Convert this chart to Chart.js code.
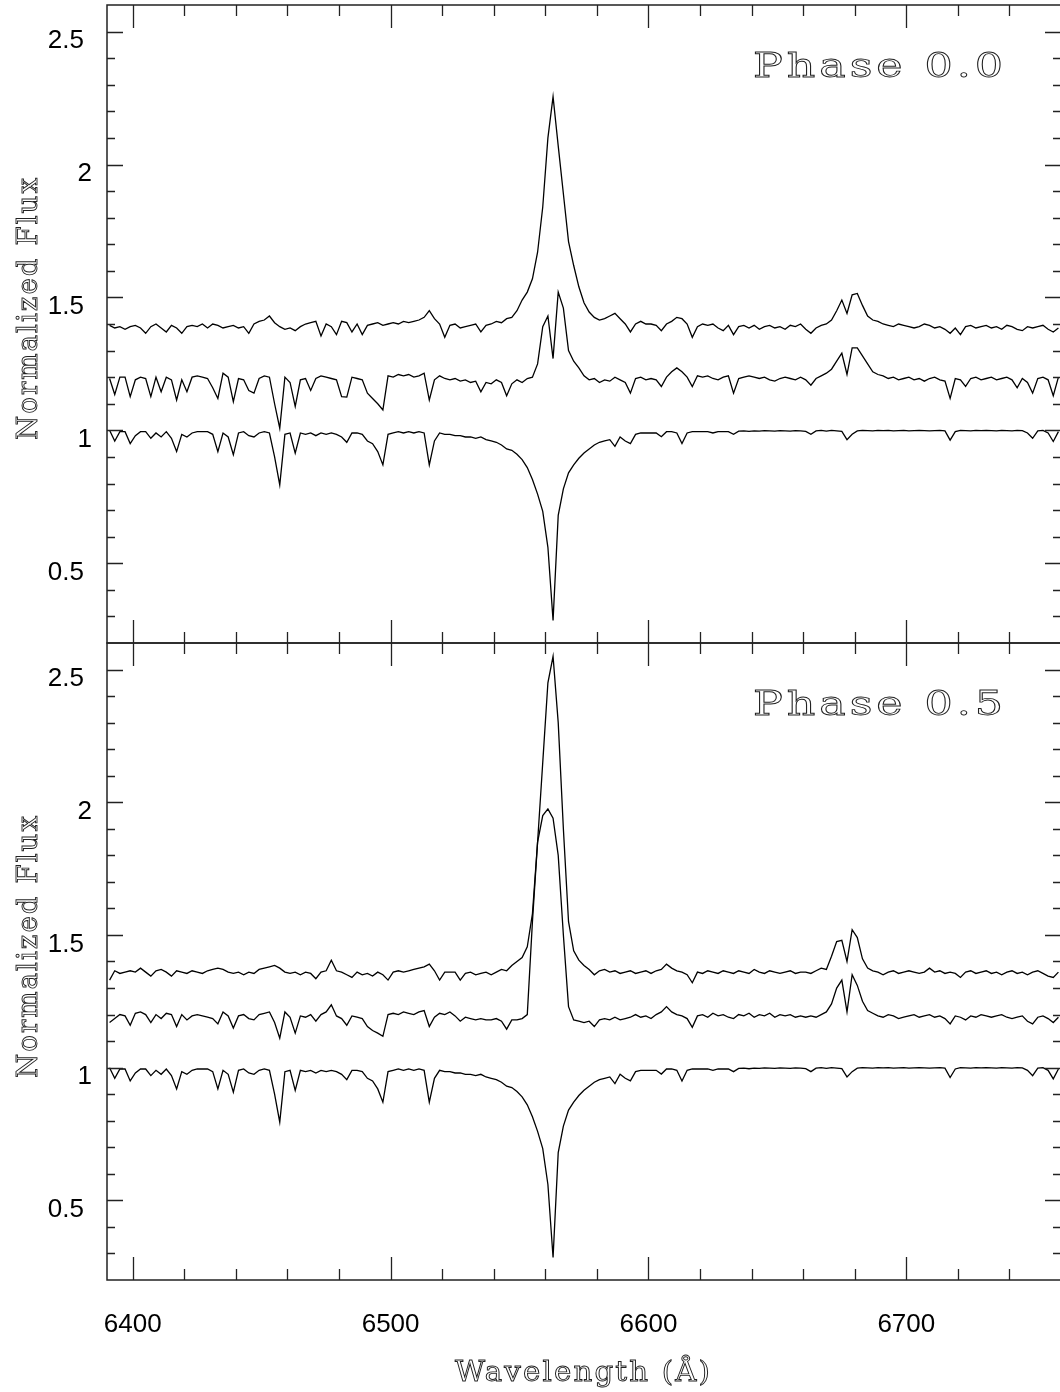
<!DOCTYPE html>
<html>
<head>
<meta charset="utf-8">
<script src="https://cdn.jsdelivr.net/npm/chart.js@4.4.1/dist/chart.umd.min.js"></script>
<style>
  html, body { margin: 0; padding: 0; background: #fff; overflow: hidden; }
  #wrap { position: relative; width: 1060px; height: 1392px; overflow: hidden; }
  canvas { position: absolute; left: 0; }
  #topPanel { top: 0; }
  #bottomPanel { top: 633px; }
</style>
</head>
<body>
<div id="wrap">
  <canvas id="topPanel" width="1064" height="650"></canvas>
  <canvas id="bottomPanel" width="1064" height="759"></canvas>
</div>
<script>
// wavelength sampling (Angstrom): 6391, 6393, ... 6759
const waveStart = 6391;
const waveStep = 2;
const waveCount = 185;

// Phase 0.0, upper spectrum (one row = 20 A, starting 6391, 6411, ...)
const phase0Upper = [
  1.395, 1.385, 1.39, 1.38, 1.39, 1.395, 1.385, 1.365, 1.39, 1.40,
  1.385, 1.37, 1.395, 1.385, 1.365, 1.39, 1.395, 1.39, 1.40, 1.385,
  1.40, 1.395, 1.385, 1.39, 1.395, 1.385, 1.39, 1.365, 1.40, 1.41,
  1.415, 1.43, 1.405, 1.39, 1.38, 1.385, 1.375, 1.39, 1.40, 1.405,
  1.41, 1.355, 1.40, 1.39, 1.36, 1.41, 1.405, 1.37, 1.40, 1.36,
  1.395, 1.40, 1.405, 1.395, 1.40, 1.405, 1.40, 1.41, 1.405, 1.41,
  1.415, 1.425, 1.45, 1.42, 1.40, 1.35, 1.395, 1.40, 1.385, 1.39,
  1.395, 1.40, 1.37, 1.395, 1.40, 1.41, 1.405, 1.42, 1.425, 1.45,
  1.49, 1.52, 1.57, 1.67, 1.84, 2.10, 2.255, 2.07, 1.89, 1.71,
  1.62, 1.54, 1.48, 1.445, 1.425, 1.415, 1.42, 1.43, 1.44, 1.42,
  1.40, 1.37, 1.40, 1.41, 1.40, 1.40, 1.395, 1.375, 1.40, 1.41,
  1.425, 1.42, 1.40, 1.35, 1.39, 1.40, 1.395, 1.40, 1.385, 1.375,
  1.395, 1.36, 1.39, 1.395, 1.385, 1.395, 1.38, 1.39, 1.395, 1.385,
  1.39, 1.38, 1.395, 1.39, 1.40, 1.38, 1.365, 1.385, 1.395, 1.40,
  1.415, 1.45, 1.49, 1.44, 1.51, 1.515, 1.47, 1.43, 1.415, 1.41,
  1.40, 1.395, 1.39, 1.40, 1.395, 1.39, 1.385, 1.39, 1.40, 1.395,
  1.385, 1.39, 1.38, 1.365, 1.385, 1.36, 1.39, 1.395, 1.385, 1.39,
  1.395, 1.385, 1.39, 1.38, 1.395, 1.39, 1.38, 1.375, 1.39, 1.385,
  1.39, 1.395, 1.38, 1.37, 1.385
];

// Phase 0.0, middle spectrum
const phase0Middle = [
  1.195, 1.135, 1.20, 1.20, 1.127, 1.19, 1.20, 1.195, 1.127, 1.20,
  1.145, 1.20, 1.19, 1.114, 1.19, 1.145, 1.20, 1.205, 1.20, 1.195,
  1.16, 1.12, 1.215, 1.20, 1.108, 1.195, 1.19, 1.15, 1.14, 1.195,
  1.205, 1.20, 1.10, 1.008, 1.20, 1.18, 1.09, 1.19, 1.195, 1.15,
  1.195, 1.205, 1.20, 1.195, 1.19, 1.127, 1.125, 1.20, 1.195, 1.19,
  1.14, 1.12, 1.10, 1.077, 1.205, 1.20, 1.21, 1.205, 1.21, 1.20,
  1.205, 1.215, 1.114, 1.19, 1.205, 1.195, 1.19, 1.195, 1.185, 1.19,
  1.18, 1.185, 1.145, 1.18, 1.175, 1.19, 1.18, 1.13, 1.175, 1.19,
  1.18, 1.195, 1.20, 1.25, 1.39, 1.43, 1.27, 1.52, 1.46, 1.30,
  1.26, 1.235, 1.205, 1.19, 1.195, 1.18, 1.19, 1.185, 1.20, 1.19,
  1.18, 1.14, 1.195, 1.20, 1.19, 1.195, 1.19, 1.165, 1.20, 1.22,
  1.235, 1.22, 1.20, 1.165, 1.205, 1.20, 1.205, 1.195, 1.19, 1.20,
  1.205, 1.14, 1.195, 1.20, 1.205, 1.20, 1.195, 1.20, 1.19, 1.185,
  1.195, 1.20, 1.195, 1.19, 1.20, 1.19, 1.17, 1.195, 1.205, 1.215,
  1.23, 1.26, 1.29, 1.21, 1.31, 1.31, 1.28, 1.25, 1.22, 1.21,
  1.205, 1.195, 1.20, 1.19, 1.195, 1.20, 1.19, 1.195, 1.185, 1.195,
  1.20, 1.19, 1.185, 1.12, 1.195, 1.19, 1.165, 1.195, 1.20, 1.19,
  1.195, 1.20, 1.19, 1.195, 1.20, 1.19, 1.16, 1.195, 1.18, 1.14,
  1.195, 1.20, 1.19, 1.13, 1.20
];

// photospheric template, drawn at the bottom of both panels
const templateFlux = [
  1.00, 0.96, 0.995, 0.995, 0.95, 0.98, 0.995, 0.995, 0.97, 0.99,
  0.975, 0.995, 0.97, 0.92, 0.985, 0.975, 0.99, 0.995, 0.995, 0.995,
  0.985, 0.92, 0.99, 0.975, 0.908, 0.99, 0.995, 0.98, 0.975, 0.99,
  0.995, 0.99, 0.90, 0.795, 0.985, 0.99, 0.914, 0.99, 0.985, 0.99,
  0.98, 0.99, 0.985, 0.99, 0.985, 0.975, 0.955, 0.99, 0.99, 0.985,
  0.96, 0.95, 0.92, 0.87, 0.985, 0.99, 0.995, 0.99, 0.995, 0.99,
  0.995, 0.99, 0.87, 0.96, 0.99, 0.985, 0.985, 0.98, 0.98, 0.975,
  0.975, 0.97, 0.975, 0.965, 0.96, 0.955, 0.945, 0.93, 0.925, 0.91,
  0.89, 0.86, 0.815, 0.76, 0.695, 0.56, 0.285, 0.68, 0.78, 0.84,
  0.87, 0.895, 0.915, 0.93, 0.945, 0.955, 0.96, 0.965, 0.94, 0.975,
  0.96, 0.95, 0.985, 0.99, 0.99, 0.99, 0.99, 0.976, 0.995, 0.995,
  0.99, 0.95, 0.99, 0.995, 0.995, 0.995, 0.995, 0.99, 0.995, 0.995,
  0.995, 0.985, 0.997, 0.998, 0.996, 0.998, 0.997, 0.999, 0.998, 0.997,
  0.999, 0.998, 0.997, 0.999, 0.998, 0.996, 0.985, 0.998, 1.00, 0.997,
  1.00, 0.998, 0.996, 0.965, 0.985, 0.998, 1.00, 0.999, 0.998, 1.00,
  0.999, 1.00, 0.998, 0.999, 1.00, 0.998, 0.999, 1.00, 0.999, 0.998,
  0.999, 1.00, 0.998, 0.963, 0.995, 1.00, 0.999, 0.998, 1.00, 0.999,
  1.00, 0.999, 0.998, 1.00, 0.999, 0.998, 1.00, 0.999, 0.99, 0.97,
  0.998, 1.00, 0.99, 0.958, 0.995
];

// Phase 0.5, upper spectrum
const phase5Upper = [
  1.33, 1.365, 1.355, 1.36, 1.365, 1.36, 1.375, 1.36, 1.345, 1.365,
  1.37, 1.36, 1.345, 1.365, 1.36, 1.355, 1.365, 1.36, 1.355, 1.365,
  1.37, 1.375, 1.37, 1.36, 1.355, 1.36, 1.35, 1.36, 1.355, 1.37,
  1.375, 1.38, 1.385, 1.375, 1.36, 1.355, 1.36, 1.35, 1.36, 1.355,
  1.335, 1.36, 1.365, 1.405, 1.365, 1.36, 1.35, 1.34, 1.36, 1.35,
  1.355, 1.345, 1.36, 1.35, 1.33, 1.36, 1.365, 1.36, 1.365, 1.37,
  1.375, 1.38, 1.39, 1.365, 1.33, 1.36, 1.36, 1.36, 1.33, 1.355,
  1.36, 1.35, 1.355, 1.36, 1.35, 1.36, 1.37, 1.365, 1.385, 1.40,
  1.415, 1.455, 1.58, 1.85, 2.15, 2.45, 2.55, 2.30, 1.90, 1.55,
  1.44, 1.405, 1.385, 1.37, 1.35, 1.365, 1.37, 1.36, 1.365, 1.355,
  1.36, 1.365, 1.355, 1.36, 1.365, 1.355, 1.365, 1.37, 1.39, 1.375,
  1.365, 1.36, 1.35, 1.32, 1.36, 1.355, 1.365, 1.36, 1.355, 1.365,
  1.36, 1.355, 1.365, 1.36, 1.355, 1.37, 1.36, 1.355, 1.365, 1.36,
  1.355, 1.36, 1.365, 1.355, 1.36, 1.36, 1.355, 1.365, 1.375, 1.37,
  1.42, 1.475, 1.48, 1.40, 1.52, 1.49, 1.41, 1.375, 1.365, 1.36,
  1.35, 1.36, 1.365, 1.355, 1.36, 1.365, 1.36, 1.355, 1.36, 1.375,
  1.36, 1.365, 1.355, 1.36, 1.355, 1.34, 1.36, 1.365, 1.355, 1.36,
  1.365, 1.355, 1.36, 1.35, 1.36, 1.365, 1.355, 1.36, 1.35, 1.36,
  1.365, 1.355, 1.345, 1.34, 1.36
];

// Phase 0.5, middle spectrum
const phase5Middle = [
  1.17, 1.185, 1.20, 1.195, 1.16, 1.205, 1.21, 1.20, 1.17, 1.20,
  1.185, 1.205, 1.20, 1.155, 1.20, 1.18, 1.195, 1.20, 1.195, 1.19,
  1.185, 1.165, 1.21, 1.195, 1.149, 1.195, 1.20, 1.185, 1.18, 1.20,
  1.205, 1.21, 1.17, 1.111, 1.21, 1.19, 1.13, 1.195, 1.19, 1.20,
  1.175, 1.20, 1.21, 1.237, 1.195, 1.185, 1.16, 1.195, 1.19, 1.185,
  1.155, 1.14, 1.13, 1.118, 1.20, 1.205, 1.20, 1.21, 1.205, 1.20,
  1.21, 1.215, 1.155, 1.19, 1.205, 1.20, 1.21, 1.195, 1.175, 1.19,
  1.185, 1.18, 1.185, 1.18, 1.18, 1.185, 1.175, 1.145, 1.18, 1.18,
  1.185, 1.20, 1.55, 1.85, 1.95, 1.975, 1.94, 1.80, 1.50, 1.23,
  1.18, 1.175, 1.17, 1.175, 1.155, 1.18, 1.185, 1.18, 1.19, 1.18,
  1.185, 1.19, 1.20, 1.19, 1.195, 1.185, 1.20, 1.21, 1.23, 1.21,
  1.20, 1.195, 1.185, 1.152, 1.195, 1.20, 1.19, 1.205, 1.195, 1.20,
  1.19, 1.185, 1.20, 1.195, 1.205, 1.19, 1.20, 1.195, 1.205, 1.19,
  1.20, 1.195, 1.20, 1.19, 1.195, 1.19, 1.195, 1.19, 1.20, 1.21,
  1.24, 1.30, 1.33, 1.21, 1.35, 1.31, 1.25, 1.215, 1.205, 1.195,
  1.19, 1.20, 1.195, 1.185, 1.19, 1.195, 1.20, 1.19, 1.195, 1.20,
  1.19, 1.195, 1.185, 1.165, 1.195, 1.19, 1.18, 1.195, 1.19, 1.20,
  1.195, 1.19, 1.195, 1.20, 1.19, 1.185, 1.19, 1.195, 1.175, 1.165,
  1.19, 1.195, 1.185, 1.17, 1.19
];

// axes
const xMin = 6390, xMax = 6760;
const yMin = 0.2, yMax = 2.6;
const xTickLabels = [6400, 6500, 6600, 6700];
const xMinorStep = 20;
const yTickLabels = [0.5, 1, 1.5, 2, 2.5];
const yMinorStep = 0.1;

const wave = [];
for (let i = 0; i < waveCount; i++) wave.push(waveStart + i * waveStep);

function toPoints(flux) {
    return wave.map((w, i) => ({ x: w, y: flux[i] }));
}

const serifFont = '"DejaVu Serif", serif';
const sansFont = '"Liberation Sans", Arial, sans-serif';

// outlined serif text, glyphs stretched so the string fills the given width
function wideText(ctx, text, left, baseline, width, size, gap, lw) {
    ctx.save();
    ctx.font = size + 'px ' + serifFont;
    ctx.letterSpacing = '0px';
    const natural = ctx.measureText(text).width;
    const stretch = width / (natural + gap * (text.length - 1));
    ctx.letterSpacing = gap + 'px';
    ctx.translate(left, baseline);
    ctx.scale(stretch, 1);
    ctx.textAlign = 'left';
    ctx.textBaseline = 'alphabetic';
    ctx.strokeStyle = '#222';
    ctx.lineWidth = lw;
    ctx.strokeText(text, 0, 0);
    ctx.restore();
}

function framePlugin(phaseText, showXLabels) {
    return {
        id: 'frame',
        afterDraw(chart) {
            const ctx = chart.ctx;
            const a = chart.chartArea;
            const xs = chart.scales.x;
            const ys = chart.scales.y;
            ctx.save();
            ctx.strokeStyle = '#222';
            ctx.lineWidth = 1.5;
            ctx.strokeRect(a.left, a.top, a.right - a.left, a.bottom - a.top);

            ctx.lineWidth = 1.3;
            ctx.beginPath();
            for (let v = 6400; v < xMax; v += xMinorStep) {
                const px = Math.round(xs.getPixelForValue(v)) + 0.5;
                const len = v % 100 === 0 ? 23 : 11;
                ctx.moveTo(px, a.bottom); ctx.lineTo(px, a.bottom - len);
                ctx.moveTo(px, a.top); ctx.lineTo(px, a.top + len);
            }
            for (let k = 3; k <= 25; k++) {
                const v = k * yMinorStep;
                const py = Math.round(ys.getPixelForValue(v)) + 0.5;
                const len = k % 5 === 0 ? 16 : 8;
                ctx.moveTo(a.left, py); ctx.lineTo(a.left + len, py);
                ctx.moveTo(a.right, py); ctx.lineTo(a.right - len, py);
            }
            ctx.stroke();

            ctx.fillStyle = '#000';
            ctx.font = '26px ' + sansFont;
            ctx.textAlign = 'right';
            ctx.textBaseline = 'middle';
            yTickLabels.forEach(v => {
                const py = ys.getPixelForValue(v) + 9.5;
                const whole = Number.isInteger(v);
                ctx.fillText(String(v), a.left - (whole ? 15 : 23), py);
            });

            if (showXLabels) {
                ctx.textAlign = 'center';
                xTickLabels.forEach(v => {
                    ctx.fillText(String(v), xs.getPixelForValue(v), a.bottom + 45);
                });
                wideText(ctx, 'Wavelength (\u00c5)', 455, a.bottom + 101, 255, 27, 2, 0.9);
            }

            ctx.save();
            ctx.translate(37, a.top + 304);
            ctx.rotate(-Math.PI / 2);
            wideText(ctx, 'Normalized Flux', -131, 0, 262, 27, 2, 0.9);
            ctx.restore();

            wideText(ctx, phaseText, 753, a.top + 72, 250, 34, 3, 0.85);
            ctx.restore();
        }
    };
}

function makePanel(canvasId, phaseText, seriesList, showXLabels, padding) {
    return new Chart(document.getElementById(canvasId), {
        type: 'line',
        data: {
            datasets: seriesList.map(flux => ({
                data: toPoints(flux),
                borderColor: '#000',
                borderWidth: 1.3,
                pointRadius: 0,
                tension: 0,
                fill: false
            }))
        },
        options: {
            responsive: false,
            animation: false,
            events: [],
            layout: { padding: padding },
            plugins: { legend: { display: false }, tooltip: { enabled: false } },
            scales: {
                x: { type: 'linear', min: xMin, max: xMax, display: false },
                y: { type: 'linear', min: yMin, max: yMax, display: false }
            }
        },
        plugins: [framePlugin(phaseText, showXLabels)]
    });
}

makePanel('topPanel', 'Phase 0.0', [phase0Upper, phase0Middle, templateFlux], false,
    { top: 5, bottom: 7, left: 107, right: 3 });
makePanel('bottomPanel', 'Phase 0.5', [phase5Upper, phase5Middle, templateFlux], true,
    { top: 10, bottom: 112, left: 107, right: 3 });
</script>
</body>
</html>
